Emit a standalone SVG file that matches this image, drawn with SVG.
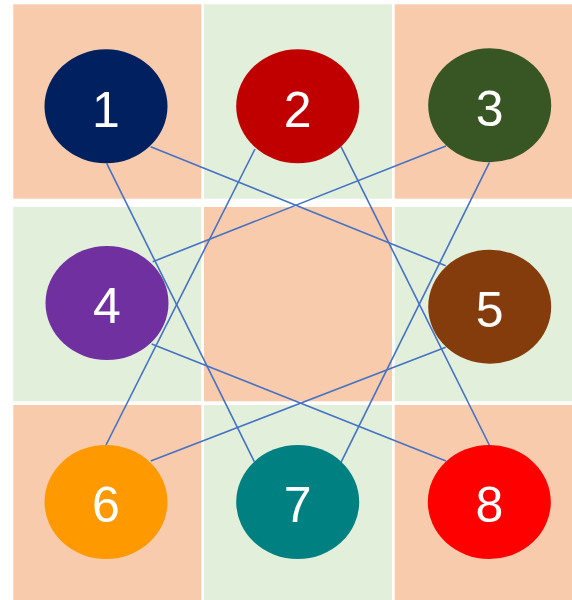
<svg xmlns="http://www.w3.org/2000/svg" width="572" height="600" viewBox="0 0 572 600">
<style>
.p{fill:#F8CBAD}
.g{fill:#E2EFDA}
.c{stroke:#4472C4;stroke-width:1.6;fill:none}
.t{fill:#fff;font-family:"Liberation Sans",Arial,sans-serif;font-size:50px;text-anchor:middle}
</style>
<rect width="572" height="600" fill="#fff"/>
<g id="grid">
<rect class="p" x="13.3" y="4.3" width="188" height="194.4"/>
<rect class="g" x="204" y="4.3" width="188" height="194.4"/>
<rect class="p" x="394.7" y="4.3" width="177.3" height="194.4"/>
<rect class="g" x="13.3" y="207" width="188" height="194.3"/>
<rect class="p" x="204" y="207" width="188" height="194.3"/>
<rect class="g" x="394.7" y="207" width="177.3" height="194.3"/>
<rect class="p" x="13.3" y="405" width="188" height="195"/>
<rect class="g" x="204" y="405" width="188" height="195"/>
<rect class="p" x="394.7" y="405" width="177.3" height="195"/>
</g>
<g id="connectors">
<line class="c" x1="106.7" y1="163.3" x2="254.3" y2="461.7"/>
<line class="c" x1="150.7" y1="146.7" x2="445.7" y2="265.7"/>
<line class="c" x1="255" y1="149" x2="106" y2="445"/>
<line class="c" x1="341" y1="146.7" x2="489.3" y2="445"/>
<line class="c" x1="446" y1="146" x2="152.7" y2="261.7"/>
<line class="c" x1="489.3" y1="162.7" x2="341" y2="462.3"/>
<line class="c" x1="151.7" y1="344" x2="446" y2="461"/>
<line class="c" x1="445.7" y1="347.3" x2="150.7" y2="461"/>
</g>
<g id="n1"><ellipse cx="106" cy="106.3" rx="61.5" ry="57" fill="#002060"/><text class="t" x="106" y="126.5">1</text></g>
<g id="n2"><ellipse cx="297.7" cy="106.3" rx="61.5" ry="57" fill="#C00000"/><text class="t" x="297.7" y="126.5">2</text></g>
<g id="n3"><ellipse cx="489.7" cy="105.3" rx="61.5" ry="57" fill="#375623"/><text class="t" x="489.7" y="125.5">3</text></g>
<g id="n4"><ellipse cx="107" cy="303" rx="61.5" ry="57" fill="#7030A0"/><text class="t" x="107" y="323">4</text></g>
<g id="n5"><ellipse cx="489.7" cy="306.7" rx="61.5" ry="57" fill="#843C0C"/><text class="t" x="489.7" y="326.7">5</text></g>
<g id="n6"><ellipse cx="106" cy="502" rx="61.5" ry="57" fill="#FF9900"/><text class="t" x="106" y="522">6</text></g>
<g id="n7"><ellipse cx="297.7" cy="502" rx="61.5" ry="57" fill="#008080"/><text class="t" x="297.7" y="522">7</text></g>
<g id="n8"><ellipse cx="489.3" cy="502" rx="61.5" ry="57" fill="#FF0000"/><text class="t" x="489.3" y="522">8</text></g>
</svg>
